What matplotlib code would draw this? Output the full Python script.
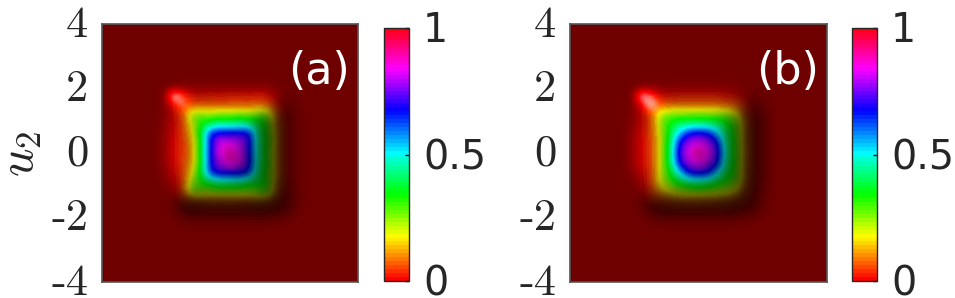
import numpy as np
import matplotlib
matplotlib.use("Agg")
import matplotlib.pyplot as plt
from matplotlib.colors import ListedColormap
from matplotlib.transforms import ScaledTranslation

FIG_W, FIG_H = 955, 298
u_nodes = [-2.4, -2.1, -1.8, -1.5, -1.2, -0.9, -0.6, -0.3, 0, 0.3, 0.6, 0.9, 1.2, 1.5, 1.8, 2.1, 2.4]
y_ticks = [4, 2, 0, -2, -4]
y_labels = ['4', '2', '0', '-2', '-4']
cb_ticks = [0, 0.5, 1]
cb_labels = ['0', '0.5', '1']

# surface height in percent, rows from u2=2.4 down to u2=-2.4
value_a = [
 [0,0,0,0,0,0,0,0,0,0,0,0,0,0,0,0,0],
 [0,0,0,0,0,0,0,0,0,0,0,0,0,0,0,0,0],
 [0,0,2,3,2,2,3,2,3,3,2,3,2,0,0,0,0],
 [0,0,2,5,7,7,8,7,8,8,8,9,8,3,0,0,0],
 [0,0,1,6,27,27,24,28,26,29,26,29,28,7,1,0,0],
 [0,0,1,5,20,36,42,47,45,47,44,40,31,10,1,0,0],
 [0,0,1,5,16,40,70,72,72,72,72,42,32,12,1,0,0],
 [0,0,1,4,13,38,70,84,84,80,72,42,35,12,1,0,0],
 [0,0,1,5,11,40,70,85,90,84,70,44,30,12,1,0,0],
 [0,0,1,5,13,38,70,80,88,84,72,42,34,12,1,0,0],
 [0,0,1,5,17,40,68,72,72,72,68,41,31,12,1,0,0],
 [0,0,0,5,24,34,42,46,44,46,40,38,33,10,1,0,0],
 [0,0,0,6,29,27,25,28,26,28,25,30,32,8,1,0,0],
 [0,0,0,4,7,8,9,8,9,8,9,9,9,4,0,0,0],
 [0,0,0,1,1,2,2,2,2,2,2,2,2,1,0,0,0],
 [0,0,0,0,0,0,0,0,0,0,0,0,0,0,0,0,0],
 [0,0,0,0,0,0,0,0,0,0,0,0,0,0,0,0,0],
]
# brightness of the lit surface, 100 = pure colour, above 100 blends to white
shade_a = [
 [44,44,44,44,44,44,44,44,44,44,44,44,44,44,44,44,44],
 [44,44,46,50,50,50,50,50,50,50,50,50,50,46,44,44,44],
 [44,46,170,115,78,72,76,78,80,80,80,84,78,55,40,42,44],
 [44,46,85,125,90,85,85,85,85,85,85,85,78,50,34,40,44],
 [44,48,70,84,85,92,92,92,92,90,85,72,55,38,28,38,44],
 [44,52,74,84,78,95,98,100,95,90,85,55,40,30,28,38,44],
 [44,54,78,86,75,95,95,95,85,85,80,52,40,30,28,38,44],
 [44,55,82,88,75,95,90,90,85,75,70,52,40,30,28,38,44],
 [44,56,84,90,75,95,88,85,70,65,60,52,40,30,28,38,44],
 [44,55,80,88,75,95,85,75,65,60,55,52,40,30,28,38,44],
 [44,52,72,82,75,92,85,80,70,60,55,50,40,30,28,38,44],
 [44,48,62,74,74,75,72,72,68,62,58,50,40,28,26,38,44],
 [44,44,50,60,60,58,58,58,58,58,58,54,42,26,24,36,44],
 [44,44,38,28,28,28,30,30,30,30,28,26,24,20,24,36,44],
 [44,44,40,24,18,20,20,20,20,20,18,18,18,20,28,38,44],
 [44,44,44,38,36,36,36,36,36,36,36,36,36,38,40,44,44],
 [44,44,44,44,44,44,44,44,44,44,44,44,44,44,44,44,44],
]
value_b = [
 [0,0,0,0,0,0,0,0,0,0,0,0,0,0,0,0,0],
 [0,0,0,0,0,0,0,0,0,0,0,0,0,0,0,0,0],
 [0,0,1,2,2,2,3,3,3,3,3,2,2,1,0,0,0],
 [0,0,1,5,7,9,9,9,9,9,9,8,7,3,0,0,0],
 [0,0,1,6,24,28,28,28,28,28,28,27,22,6,1,0,0],
 [0,0,1,6,24,36,42,44,45,44,42,36,30,9,1,0,0],
 [0,0,1,6,20,38,56,70,72,70,56,40,30,10,1,0,0],
 [0,0,1,5,20,40,70,80,84,80,70,42,31,10,1,0,0],
 [0,0,1,5,20,42,72,84,92,84,72,44,31,10,1,0,0],
 [0,0,1,5,20,40,70,80,84,80,70,42,31,10,1,0,0],
 [0,0,1,5,20,36,54,70,72,70,54,38,30,10,1,0,0],
 [0,0,0,5,20,30,38,44,46,44,38,32,28,9,1,0,0],
 [0,0,0,5,14,20,24,26,27,26,24,22,17,6,1,0,0],
 [0,0,0,3,5,7,9,9,9,9,9,8,6,3,0,0,0],
 [0,0,0,1,1,2,2,2,2,2,2,2,1,1,0,0,0],
 [0,0,0,0,0,0,0,0,0,0,0,0,0,0,0,0,0],
 [0,0,0,0,0,0,0,0,0,0,0,0,0,0,0,0,0],
]
shade_b = [
 [44,44,44,44,44,44,44,44,44,44,44,44,44,44,44,44,44],
 [44,44,46,48,48,48,50,50,50,50,50,48,46,44,44,44,44],
 [44,46,160,125,78,70,70,70,70,70,68,64,58,45,38,40,44],
 [44,46,88,160,98,82,80,80,80,80,78,74,64,42,30,38,44],
 [44,48,70,85,92,95,92,92,92,88,84,70,50,32,24,34,44],
 [44,52,74,84,82,98,100,100,98,92,85,62,44,30,22,32,44],
 [44,56,80,86,78,96,100,98,92,85,78,58,44,28,22,32,44],
 [44,58,84,88,78,96,95,92,80,75,72,56,44,28,22,32,44],
 [44,58,84,88,78,96,92,85,70,70,68,55,44,28,22,32,44],
 [44,58,82,86,78,96,90,80,70,62,60,54,42,28,22,32,44],
 [44,52,74,82,76,90,88,80,70,65,60,52,42,26,22,32,44],
 [44,46,60,74,72,75,74,72,68,62,58,50,40,26,22,34,44],
 [44,44,48,56,55,55,54,54,54,52,50,46,36,24,22,36,44],
 [44,44,36,30,30,30,30,30,30,28,26,24,22,20,24,38,44],
 [44,44,40,26,20,20,20,20,20,20,20,20,20,24,30,40,44],
 [44,44,44,40,36,36,36,36,36,36,36,36,38,40,42,44,44],
 [44,44,44,44,44,44,44,44,44,44,44,44,44,44,44,44,44],
]

cmap = ListedColormap(plt.get_cmap('hsv')(np.linspace(0, 1, 64)))


def upsample(grid, n=257):
    """Bicubic-like resample of a node grid onto the full -4..4 extent."""
    g = np.array(grid, dtype=float)
    g = np.pad(g, ((16, 16), (16, 16)), mode='edge')
    f = plt.figure(figsize=(n / 100, n / 100), dpi=100)
    a = f.add_axes([0, 0, 1, 1])
    a.axis('off')
    a.imshow(g, cmap='gray', vmin=g.min(), vmax=g.max(), interpolation='bicubic', aspect='auto',
             extent=(-7.2, 7.2, -7.2, 7.2))
    a.set_xlim(-4, 4)
    a.set_ylim(-4, 4)
    f.canvas.draw()
    arr = np.asarray(f.canvas.buffer_rgba())[:, :, 0].astype(float) / 255
    plt.close(f)
    return arr * (g.max() - g.min()) + g.min()


def surface(value, shade):
    v = upsample(value) / 100
    s = upsample(shade) / 100
    rgb = cmap(np.clip(v, 0, 1))[:, :, :3]
    lit = np.minimum(s, 1)[:, :, None] * rgb
    white = np.clip(s - 1, 0, 0.8)[:, :, None] / 0.6
    return np.clip(lit + (1 - lit) * np.clip(white, 0, 0.9), 0, 1)


plt.rcParams['mathtext.fontset'] = 'cm'
fig = plt.figure(figsize=(FIG_W / 100, FIG_H / 100), dpi=100)


def box(l, t, r, b):
    return [l / FIG_W, 1 - b / FIG_H, (r - l) / FIG_W, (b - t) / FIG_H]


panels = [
    (box(102, 24, 358, 282), box(384, 28, 409, 281), value_a, shade_a, '(a)', 319),
    (box(570, 24, 827, 282), box(852, 28, 877, 281), value_b, shade_b, '(b)', 788),
]
for i, (ab, cb, val, sh, lab, lx) in enumerate(panels):
    ax = fig.add_axes(ab)
    ax.imshow(surface(val, sh), extent=(-4, 4, -4, 4), aspect='auto', interpolation='bilinear')
    ax.set_xticks([])
    ax.set_yticks(y_ticks)
    ax.set_yticklabels(y_labels, fontsize=32, color='#262626', family='cmr10')
    ax.tick_params(axis='y', length=0, pad=10)
    for t in ax.get_yticklabels():
        t.set_transform(t.get_transform() + ScaledTranslation(0, 3 / 100, fig.dpi_scale_trans))
    for s in ax.spines.values():
        s.set_color('#555555')
        s.set_linewidth(1.2)
    fig.text(lx / FIG_W, 1 - 84 / FIG_H, lab, color='white', fontsize=32, ha='center', va='baseline')
    if i == 0:
        fig.text(20 / FIG_W, 1 - 154 / FIG_H, r'$u_2$', fontsize=36, color='#262626',
                 rotation=90, ha='center', va='center')
    cax = fig.add_axes(cb)
    sm = plt.cm.ScalarMappable(cmap=cmap, norm=plt.Normalize(0, 1))
    cbar = fig.colorbar(sm, cax=cax)
    cbar.set_ticks(cb_ticks)
    cbar.set_ticklabels(cb_labels)
    cax.tick_params(axis='y', length=3, width=1, direction='in', right=True, labelsize=28.5,
                    labelcolor='#262626', pad=10)
    for t in cax.get_yticklabels():
        t.set_transform(t.get_transform() + ScaledTranslation(0, 1 / 100, fig.dpi_scale_trans))
    cbar.outline.set_edgecolor('#262626')
    cbar.outline.set_linewidth(1)

fig.savefig('out.png', dpi=100)
